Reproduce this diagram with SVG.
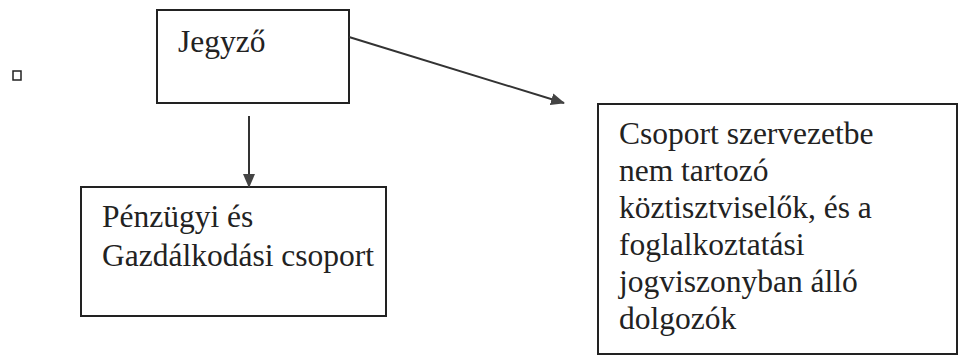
<svg xmlns="http://www.w3.org/2000/svg" width="963" height="358" viewBox="0 0 963 358">
<style>
.box{fill:#fff;stroke:#222;stroke-width:2}
.t{font-family:"Liberation Serif","Times New Roman",serif;font-size:31.5px;fill:#222}
.c{stroke:#333;stroke-width:2;fill:none}
</style>
<defs>
<marker id="ah" markerWidth="14" markerHeight="12" refX="13" refY="6" orient="auto" markerUnits="userSpaceOnUse">
<path d="M0,0 L14,6 L0,12 Z" fill="#444"/>
</marker>
</defs>
<rect width="963" height="358" fill="#fff"/>
<rect x="13" y="71" width="8" height="9" fill="none" stroke="#222" stroke-width="1.5"/>
<g id="jegyzo">
<rect class="box" x="157" y="10" width="192" height="93"/>
<text class="t" x="178" y="52">Jegyző</text>
</g>
<g id="penzugyi">
<rect class="box" x="81" y="187" width="305" height="129"/>
<text class="t" x="102" y="227">Pénzügyi és</text>
<text class="t" x="102" y="266">Gazdálkodási csoport</text>
</g>
<g id="csoport">
<rect class="box" x="598" y="104" width="359" height="250"/>
<text class="t" x="619" y="144">Csoport szervezetbe</text>
<text class="t" x="619" y="181">nem tartozó</text>
<text class="t" x="619" y="218">köztisztviselők, és a</text>
<text class="t" x="619" y="255">foglalkoztatási</text>
<text class="t" x="619" y="292">jogviszonyban álló</text>
<text class="t" x="619" y="329">dolgozók</text>
</g>
<g id="connectors">
<line class="c" x1="249" y1="116" x2="249" y2="187" marker-end="url(#ah)"/>
<line class="c" x1="349" y1="37" x2="564" y2="103" marker-end="url(#ah)"/>
</g>
</svg>
